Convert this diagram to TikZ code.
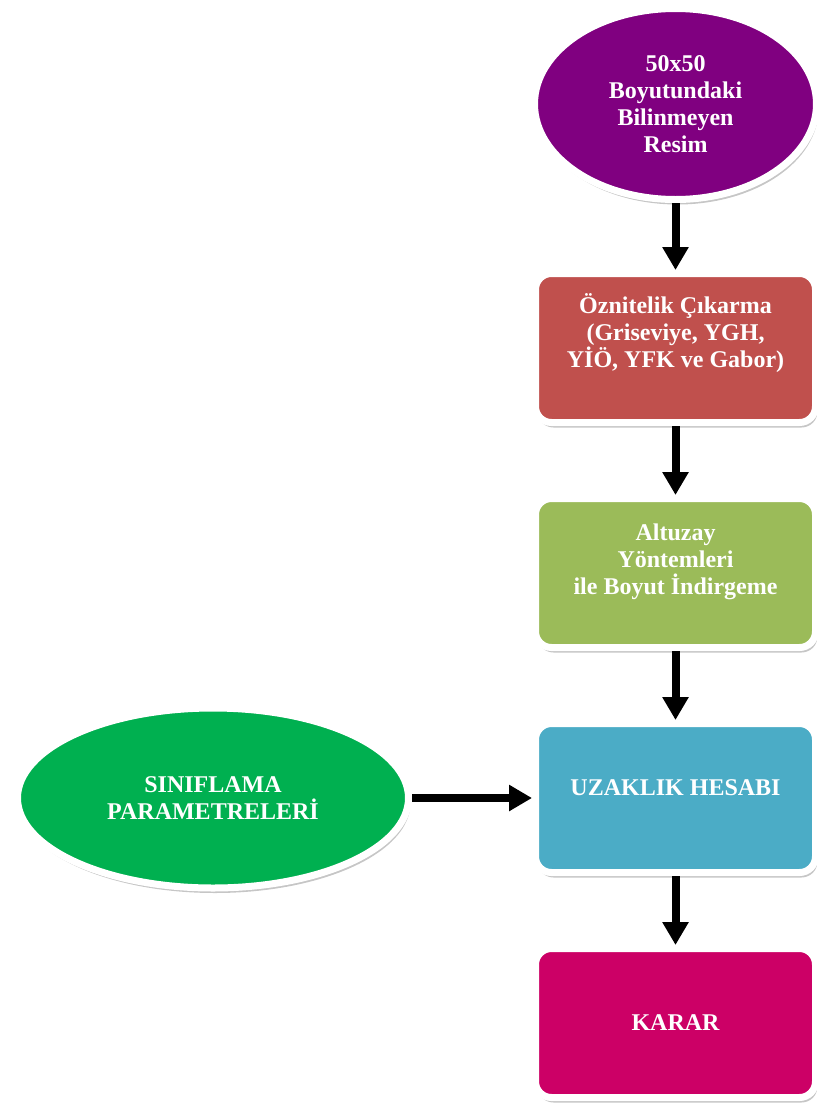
\documentclass[tikz,border=0pt]{standalone}
\usepackage{fontspec}
\setmainfont{Liberation Serif}
\usepackage{tikz}
\usetikzlibrary{positioning,shapes.geometric,shadows,arrows.meta}
\definecolor{ddpurple}{HTML}{800080}
\definecolor{ddred}{HTML}{C0504D}
\definecolor{ddolive}{HTML}{9BBB59}
\definecolor{ddblue}{HTML}{4BACC6}
\definecolor{ddmagenta}{HTML}{CC0066}
\definecolor{ddgreen}{HTML}{00B050}

\begin{document}
\begin{tikzpicture}[x=0.5pt, y=-0.5pt,
  font=\fontsize{12}{13.5}\selectfont\bfseries,
  oval/.style={ellipse, draw=white, line width=3.5pt, text=white, align=center,
               drop shadow={opacity=0.45, shadow xshift=1pt, shadow yshift=-2.5pt}},
  stage/.style={draw=white, line width=3.5pt, rounded corners=8pt, text=white,
                minimum width=140pt, minimum height=74.5pt, align=center,
                drop shadow={opacity=0.45, shadow xshift=1pt, shadow yshift=-2.5pt}},
  flow/.style={line width=4pt, -{Triangle[width=12.5pt,length=11.5pt]}}]
  \useasboundingbox (0,0) rectangle (816,1108);
  \node[oval, fill=ddpurple, minimum width=141pt, minimum height=95.5pt] (img) at (675.5,104)
    {50x50\\Boyutundaki\\Bilinmeyen\\Resim};
  \node[stage, fill=ddred, text depth=17.5pt, below=33.5pt of img] (feat)
    {Öznitelik Çıkarma\\(Griseviye, YGH,\\YİÖ, YFK ve Gabor)};
  \node[stage, fill=ddolive, text depth=13.5pt, below=34.5pt of feat] (sub)
    {Altuzay\\Yöntemleri\\ile Boyut İndirgeme};
  \node[stage, fill=ddblue, text depth=10pt, below=34.5pt of sub] (dist) {UZAKLIK HESABI};
  \node[stage, fill=ddmagenta, below=34.5pt of dist] (dec) {KARAR};
  \node[oval, fill=ddgreen, minimum width=195.5pt, minimum height=90pt, left=60pt of dist] (par)
    {SINIFLAMA\\PARAMETRELERİ};
  \foreach \a/\b in {img/feat, feat/sub, sub/dist, dist/dec, par/dist}
    \draw[flow] (\a) -- (\b);
\end{tikzpicture}
\end{document}
